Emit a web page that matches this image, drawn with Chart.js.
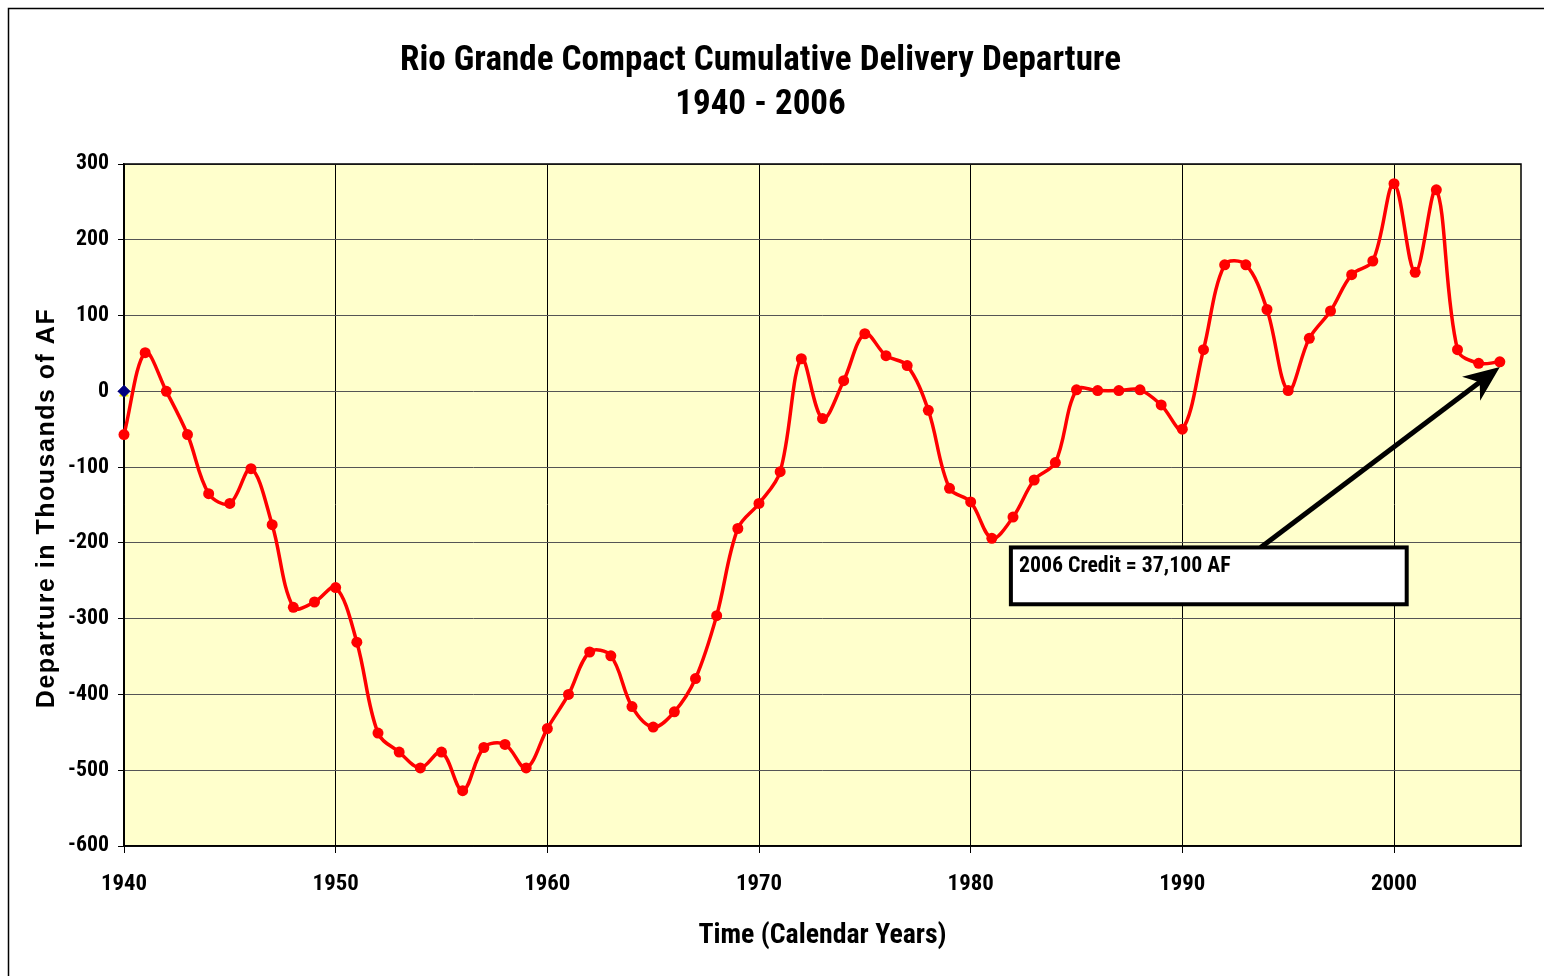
<!DOCTYPE html>
<html lang="en">
<head>
<meta charset="UTF-8">
<title>Rio Grande Compact Cumulative Delivery Departure</title>
<script src="https://cdn.jsdelivr.net/npm/chart.js@4.4.1/dist/chart.umd.min.js"></script>
<style>
  html, body { margin: 0; padding: 0; background: #fff; }
  #wrap { width: 1544px; height: 976px; }
</style>
</head>
<body>
<div id="wrap"><canvas id="departureChart"></canvas></div>
<script>
// cumulative delivery departure, thousands of acre-feet, one value per year
var years = [
  1940, 1941, 1942, 1943, 1944, 1945, 1946, 1947, 1948, 1949,
  1950, 1951, 1952, 1953, 1954, 1955, 1956, 1957, 1958, 1959,
  1960, 1961, 1962, 1963, 1964, 1965, 1966, 1967, 1968, 1969,
  1970, 1971, 1972, 1973, 1974, 1975, 1976, 1977, 1978, 1979,
  1980, 1981, 1982, 1983, 1984, 1985, 1986, 1987, 1988, 1989,
  1990, 1991, 1992, 1993, 1994, 1995, 1996, 1997, 1998, 1999,
  2000, 2001, 2002, 2003, 2004, 2005
];
var departures = [
  -57, 51, 0, -57, -135, -148, -102, -176, -285, -278,
  -259, -331, -451, -476, -497, -476, -527, -470, -466, -497,
  -445, -400, -344, -349, -416, -443, -423, -379, -296, -181,
  -148, -106, 43, -36, 14, 76, 47, 34, -25, -128,
  -146, -194, -166, -117, -94, 2, 1, 1, 2, -18,
  -50, 55, 167, 167, 108, 1, 70, 106, 154, 172,
  274, 157, 266, 55, 37, 39
];
// the lone starting marker at 1940
var startYears = [1940];
var startValues = [0];

var xTicks = [1940, 1950, 1960, 1970, 1980, 1990, 2000];
var yTicks = [300, 200, 100, 0, -100, -200, -300, -400, -500, -600];

var titleLines = ['Rio Grande Compact Cumulative Delivery Departure', '1940 - 2006'];
var xTitle = 'Time (Calendar Years)';
var yTitle = 'Departure in Thousands of AF';
var noteText = '2006 Credit = 37,100 AF';

var WIDE = "'Liberation Sans', Arial, sans-serif";

// the original uses a narrow bold face; take the best one that is installed
var probe = document.createElement('canvas').getContext('2d');
function widthOf(font, text) {
  probe.font = font;
  return probe.measureText(text).width;
}
function pickNarrow() {
  var t = 'Rio Grande Compact 1940';
  var names = ["'Liberation Sans Narrow'", "'Arial Narrow'", "'Roboto Condensed'", "'Noto Sans Condensed'"];
  for (var i = 0; i < names.length; i++) {
    if (widthOf('bold 100px ' + names[i] + ', monospace', t) !== widthOf('bold 100px monospace', t)) {
      return { weight: 'bold', family: names[i] + ', sans-serif' };
    }
  }
  if (widthOf('bold condensed 100px "Noto Sans"', t) < 0.93 * widthOf('bold 100px "Noto Sans"', t)) {
    return { weight: 'bold condensed', family: "'Noto Sans', sans-serif" };
  }
  return { weight: 'bold', family: WIDE };
}
var NARROW = pickNarrow();

// font size that makes a string as wide as it is in the original
function fitSize(text, width) {
  return Math.round(10 * 100 * width / widthOf(NARROW.weight + ' 100px ' + NARROW.family, text)) / 10;
}
var titleSize = Math.min(37, fitSize(titleLines[0], 722));
var xTickSize = Math.min(25, fitSize('1940', 46));
var yTickSize = Math.min(25, fitSize('300', 33));
var xTitleSize = Math.min(29, fitSize(xTitle, 248));
var noteSize = Math.min(24, fitSize(noteText, 212));

// callout box and arrow, placed in data units
var noteBox = { x1: 1981.9, x2: 2000.6, y1: -206, y2: -281 };
var noteArrow = { x1: 1993.7, y1: -206, x2: 2005.0, y2: 32 };

function toPoints(xs, ys) {
  return xs.map(function (x, i) { return { x: x, y: ys[i] }; });
}

var framePlugin = {
  id: 'frame',
  beforeDraw: function (chart) {
    var ctx = chart.ctx, a = chart.chartArea;
    ctx.save();
    ctx.fillStyle = '#ffffff';
    ctx.fillRect(0, 0, chart.width, chart.height);
    ctx.strokeStyle = '#000';
    ctx.lineWidth = 1.5;
    ctx.strokeRect(8.5, 8.5, chart.width + 20, chart.height + 20);
    ctx.fillStyle = '#ffffcc';
    ctx.fillRect(a.left, a.top, a.right - a.left, a.bottom - a.top);
    ctx.restore();
  },
  beforeDatasetsDraw: function (chart) {
    var ctx = chart.ctx, a = chart.chartArea;
    ctx.save();
    ctx.strokeStyle = '#000';
    ctx.lineWidth = 1.5;
    ctx.strokeRect(a.left, a.top, a.right - a.left, a.bottom - a.top);
    ctx.restore();
  },
  afterDraw: function (chart) {
    // y title drawn here so it can get the letter spacing of the original
    var ctx = chart.ctx, a = chart.chartArea;
    ctx.save();
    ctx.translate(47, (a.top + a.bottom) / 2 + 3);
    ctx.rotate(-Math.PI / 2);
    ctx.font = 'bold 25px ' + WIDE;
    ctx.letterSpacing = '1.5px';
    ctx.fillStyle = '#000';
    ctx.textAlign = 'center';
    ctx.textBaseline = 'middle';
    ctx.fillText(yTitle, 0, 0);
    ctx.restore();
  }
};

var calloutPlugin = {
  id: 'callout',
  afterDatasetsDraw: function (chart) {
    var ctx = chart.ctx, xs = chart.scales.x, ys = chart.scales.y;

    var ax1 = xs.getPixelForValue(noteArrow.x1), ay1 = ys.getPixelForValue(noteArrow.y1);
    var ax2 = xs.getPixelForValue(noteArrow.x2), ay2 = ys.getPixelForValue(noteArrow.y2);
    var ang = Math.atan2(ay2 - ay1, ax2 - ax1);
    var headLen = 36, headW = 15;
    ctx.save();
    ctx.strokeStyle = '#000';
    ctx.fillStyle = '#000';
    ctx.lineWidth = 5;
    ctx.beginPath();
    ctx.moveTo(ax1, ay1);
    ctx.lineTo(ax2 - Math.cos(ang) * headLen * 0.6, ay2 - Math.sin(ang) * headLen * 0.6);
    ctx.stroke();
    ctx.translate(ax2, ay2);
    ctx.rotate(ang);
    ctx.beginPath();
    ctx.moveTo(0, 0);
    ctx.lineTo(-headLen, -headW);
    ctx.lineTo(-headLen * 0.7, 0);
    ctx.lineTo(-headLen, headW);
    ctx.closePath();
    ctx.fill();
    ctx.restore();

    var bx1 = xs.getPixelForValue(noteBox.x1), bx2 = xs.getPixelForValue(noteBox.x2);
    var by1 = ys.getPixelForValue(noteBox.y1), by2 = ys.getPixelForValue(noteBox.y2);
    ctx.save();
    ctx.fillStyle = '#ffffff';
    ctx.fillRect(bx1, by1, bx2 - bx1, by2 - by1);
    ctx.strokeStyle = '#000';
    ctx.lineWidth = 4;
    ctx.strokeRect(bx1, by1, bx2 - bx1, by2 - by1);
    ctx.fillStyle = '#000';
    ctx.font = NARROW.weight + ' ' + noteSize + 'px ' + NARROW.family;
    ctx.textAlign = 'left';
    ctx.textBaseline = 'middle';
    ctx.fillText(noteText, bx1 + 8, by1 + 19);
    ctx.restore();
  }
};

var ctx = document.getElementById('departureChart').getContext('2d');
new Chart(ctx, {
  type: 'line',
  data: {
    datasets: [{
      label: 'Cumulative Departure',
      data: toPoints(years, departures),
      borderColor: '#ff0000',
      backgroundColor: '#ff0000',
      borderWidth: 3.5,
      pointRadius: 5.5,
      pointBorderWidth: 0,
      tension: 0.35,
      clip: false,
      order: 2
    }, {
      label: 'start (hidden)',
      data: toPoints(startYears, startValues.map(function (v) { return v - 3; })),
      showLine: false,
      pointStyle: 'triangle',
      pointRadius: 5,
      backgroundColor: '#ffff00',
      borderColor: '#ffff00',
      clip: false,
      order: 1
    }, {
      label: 'start',
      data: toPoints(startYears, startValues),
      showLine: false,
      pointStyle: 'rectRot',
      pointRadius: 6,
      backgroundColor: '#000080',
      borderColor: '#000080',
      clip: false,
      order: 0
    }]
  },
  options: {
    responsive: true,
    maintainAspectRatio: false,
    animation: false,
    layout: { padding: { left: 0, right: 23, top: 0, bottom: 0 } },
    plugins: {
      legend: { display: false },
      tooltip: { enabled: false },
      title: {
        display: true,
        text: titleLines,
        color: '#000',
        font: { family: NARROW.family, size: titleSize, weight: NARROW.weight, lineHeight: '44px' },
        padding: { top: 39, bottom: 37 }
      }
    },
    scales: {
      x: {
        type: 'linear',
        min: 1940,
        max: 2006,
        afterBuildTicks: function (scale) {
          scale.ticks = xTicks.map(function (v) { return { value: v }; });
        },
        afterFit: function (scale) { scale.height = 130; },
        grid: { color: '#000', lineWidth: 1, tickLength: 7, tickColor: '#000' },
        border: { display: true, color: '#000', width: 1.5 },
        ticks: {
          color: '#000',
          padding: 17,
          font: { family: NARROW.family, size: xTickSize, weight: NARROW.weight, lineHeight: '28px' },
          callback: function (v) { return String(v); }
        },
        title: {
          display: true,
          text: xTitle,
          color: '#000',
          font: { family: NARROW.family, size: xTitleSize, weight: NARROW.weight, lineHeight: '30px' },
          padding: { top: 0, bottom: 25 }
        }
      },
      y: {
        min: -600,
        max: 300,
        afterBuildTicks: function (scale) {
          scale.ticks = yTicks.map(function (v) { return { value: v }; });
        },
        afterFit: function (scale) { scale.width = 124; },
        grid: { color: '#555', lineWidth: 1, tickLength: 6, tickColor: '#000' },
        border: { display: true, color: '#000', width: 1.5 },
        ticks: {
          color: '#000',
          padding: 9,
          font: { family: NARROW.family, size: yTickSize, weight: NARROW.weight, lineHeight: '28px' },
          callback: function (v) { return String(v); }
        }
      }
    }
  },
  plugins: [framePlugin, calloutPlugin]
});
</script>
</body>
</html>
